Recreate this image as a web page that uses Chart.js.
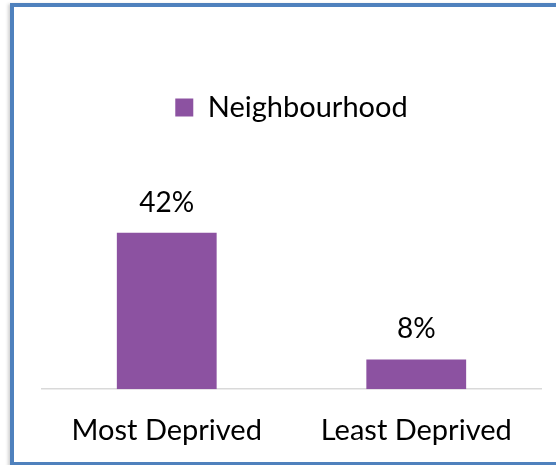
<!DOCTYPE html>
<html>
<head>
<meta charset="utf-8">
<script src="https://cdn.jsdelivr.net/npm/chart.js@4/dist/chart.umd.min.js"></script>
<style>
 html, body { margin: 0; padding: 0; background: #fff; overflow: hidden; }
 #frame {
  position: absolute; left: 10px; top: 3px;
  width: 560px; height: 455px;
  border: 4px solid #4f81bd;
  box-shadow: -2px 1px 3px rgba(0,0,0,0.18);
  background: #fff;
 }
 #chart { position: absolute; left: 0; top: 0; }
</style>
</head>
<body>
<div id="frame"><canvas id="chart" width="542" height="465"></canvas></div>
<script>
const categories = ["Most Deprived", "Least Deprived"];
const seriesName = "Neighbourhood";
const values = [42, 8];

const FONT = "Lato, 'Open Sans', sans-serif";

// write "42%" over each bar
const barLabels = {
 id: "barLabels",
 afterDatasetsDraw(chart) {
  const { ctx } = chart;
  const meta = chart.getDatasetMeta(0);
  ctx.save();
  ctx.font = "28px " + FONT;
  ctx.fillStyle = "#000";
  ctx.textAlign = "center";
  ctx.textBaseline = "middle";
  meta.data.forEach((bar, i) => {
   ctx.fillText(values[i] + "%", bar.x, bar.y - 30);
  });
  ctx.restore();
 },
};

new Chart(document.getElementById("chart"), {
 type: "bar",
 data: {
  labels: categories,
  datasets: [
   {
    label: seriesName,
    data: values,
    backgroundColor: "#8c52a1",
    barPercentage: 0.4,
    categoryPercentage: 1,
   },
  ],
 },
 options: {
  responsive: false,
  animation: false,
  layout: { padding: { top: 76, left: 28, right: 15, bottom: 0 } },
  scales: {
   x: {
    grid: { display: false, drawTicks: false },
    border: { display: true, color: "#d9d9d9", width: 1.5 },
    ticks: {
     color: "#000",
     padding: 24,
     font: { family: FONT, size: 29, lineHeight: 1.2 },
    },
   },
   y: { display: false, min: 0, max: 69 },
  },
  plugins: {
   legend: {
    position: "top",
    labels: {
     color: "#000",
     boxWidth: 18,
     boxHeight: 18,
     padding: 10,
     font: { family: FONT, size: 29 },
    },
   },
   tooltip: { enabled: false },
  },
 },
 plugins: [barLabels],
});
</script>
</body>
</html>
